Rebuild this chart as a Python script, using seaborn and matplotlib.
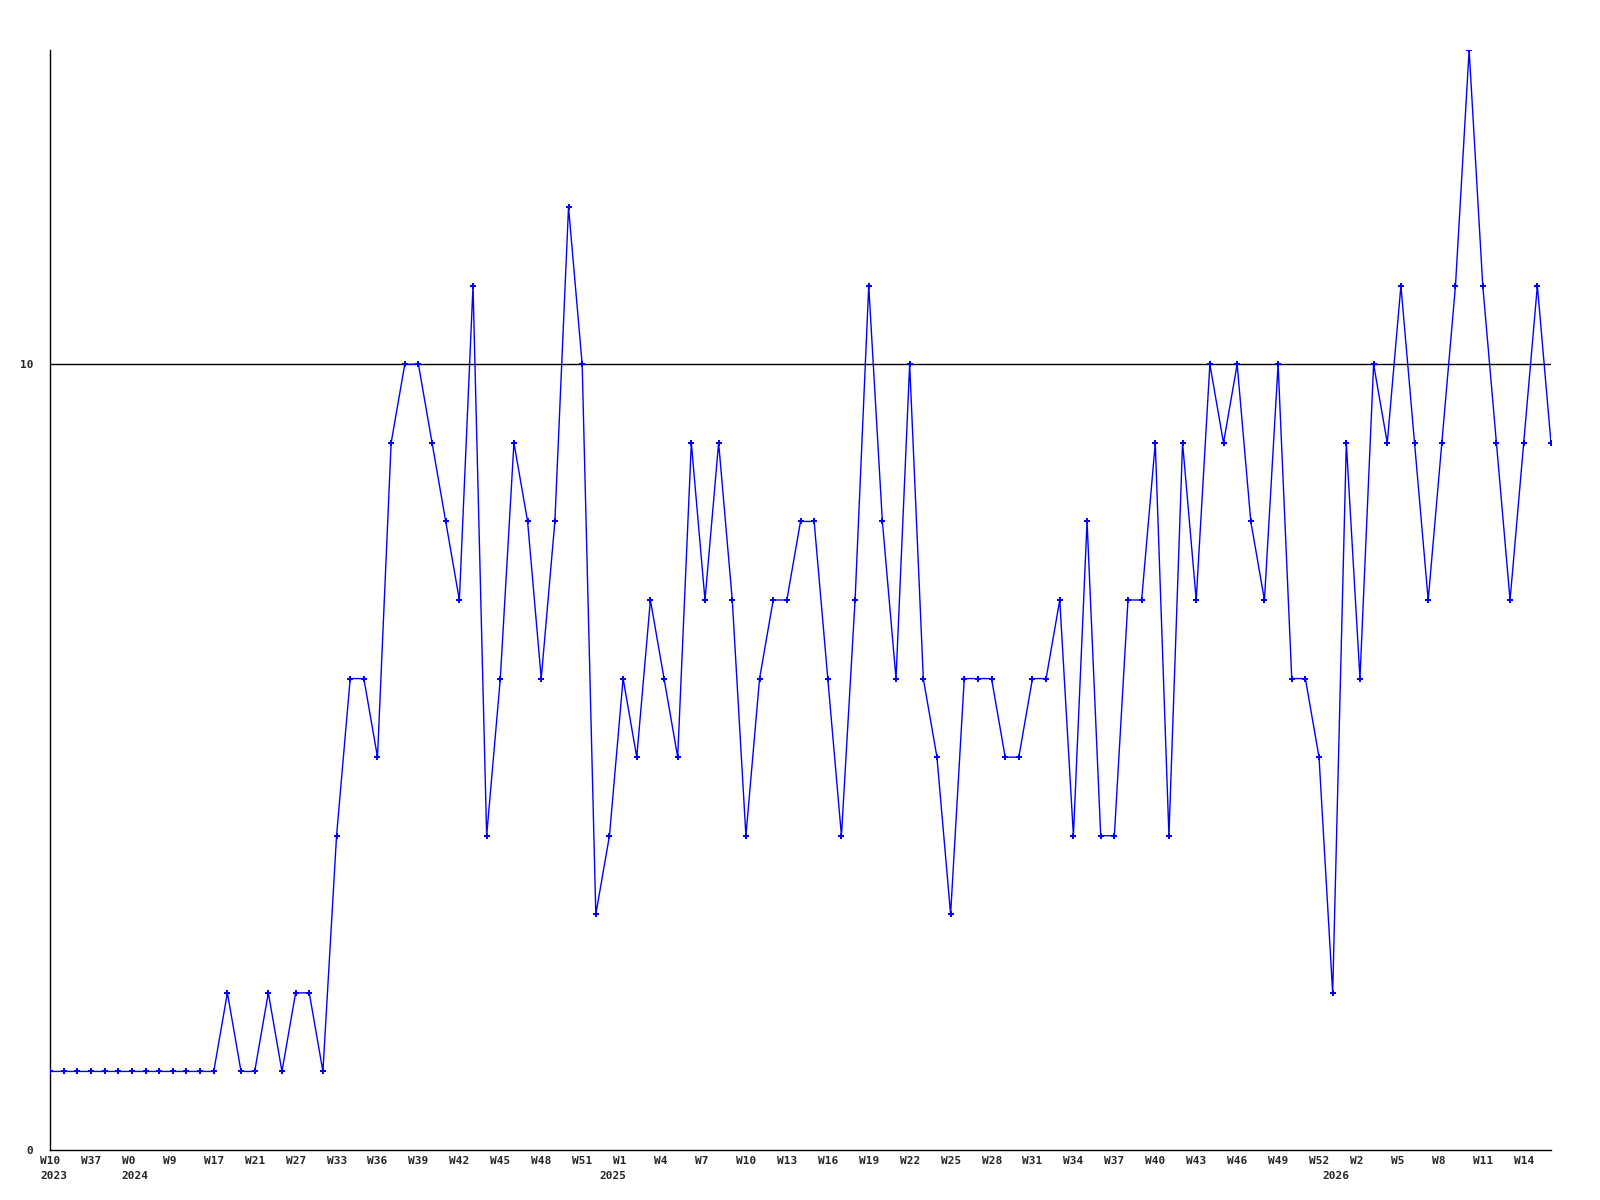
import matplotlib
matplotlib.use('Agg')
import matplotlib.pyplot as plt
import matplotlib.transforms as mtransforms
import seaborn as sns

# weekly counts
values = [1, 1, 1, 1, 1, 1, 1, 1, 1, 1, 1, 1, 1, 2, 1, 1, 2, 1, 2, 2,
          1, 4, 6, 6, 5, 9, 10, 10, 9, 8, 7, 11, 4, 6, 9, 8, 6, 8, 12, 10,
          3, 4, 6, 5, 7, 6, 5, 9, 7, 9, 7, 4, 6, 7, 7, 8, 8, 6, 4, 7,
          11, 8, 6, 10, 6, 5, 3, 6, 6, 6, 5, 5, 6, 6, 7, 4, 8, 4, 4, 7,
          7, 9, 4, 9, 7, 10, 9, 10, 8, 7, 10, 6, 6, 5, 2, 9, 6, 10, 9, 11,
          9, 7, 9, 11, 14, 11, 9, 7, 9, 11, 9]

# one week label every third point
week_labels = ['W10', 'W37', 'W0', 'W9', 'W17', 'W21', 'W27', 'W33',
               'W36', 'W39', 'W42', 'W45', 'W48', 'W51', 'W1', 'W4', 'W7',
               'W10', 'W13', 'W16', 'W19', 'W22', 'W25', 'W28', 'W31', 'W34',
               'W37', 'W40', 'W43', 'W46', 'W49', 'W52', 'W2', 'W5', 'W8',
               'W11', 'W14']

# year labels go under the first point of each year
years = ['2023', '2024', '2025', '2026']
year_start = [0, 6, 41, 94]

x = list(range(len(values)))

sns.set_style('white')
plt.rcParams['font.family'] = ['DejaVu Sans Mono']
plt.rcParams['font.weight'] = 'bold'

fig = plt.figure(figsize=(16, 12), dpi=100)
ax = fig.add_axes([50 / 1600, 50 / 1200, 1501 / 1600, 1100 / 1200])

ax.axhline(10, color='black', lw=1.0, zorder=1)
sns.lineplot(x=x, y=values, ax=ax, color='#0000ff', lw=1.0,
             marker='P', markersize=4.5, markeredgewidth=0, zorder=3)

ax.set_xlim(0, len(values) - 1)
ax.set_ylim(0, 14)

ax.set_yticks([0, 10])
ax.set_yticklabels(['0', '10'], fontsize=8, fontweight='bold')
ax.set_xticks(x[::3])
ax.set_xticklabels([])

# labels sit left-aligned, starting a few pixels before their point
week_shift = mtransforms.ScaledTranslation(-10 / 100, -6 / 100, fig.dpi_scale_trans)
year_shift = mtransforms.ScaledTranslation(-10 / 100, -21 / 100, fig.dpi_scale_trans)
for pos, lab in zip(x[::3], week_labels):
    ax.text(pos, 0, lab, transform=ax.get_xaxis_transform() + week_shift,
            ha='left', va='top', fontsize=8, fontweight='bold', clip_on=False)
for pos, lab in zip(year_start, years):
    ax.text(pos, 0, lab, transform=ax.get_xaxis_transform() + year_shift,
            ha='left', va='top', fontsize=8, fontweight='bold', clip_on=False)

ax.tick_params(axis='x', length=0, pad=5)
ax.tick_params(axis='y', length=0, pad=12)

for side in ['top', 'right']:
    ax.spines[side].set_visible(False)
for side in ['left', 'bottom']:
    ax.spines[side].set_color('black')
    ax.spines[side].set_linewidth(1.0)

ax.set_xlabel('')
ax.set_ylabel('')

fig.savefig('out.png', dpi=100, facecolor='white')
